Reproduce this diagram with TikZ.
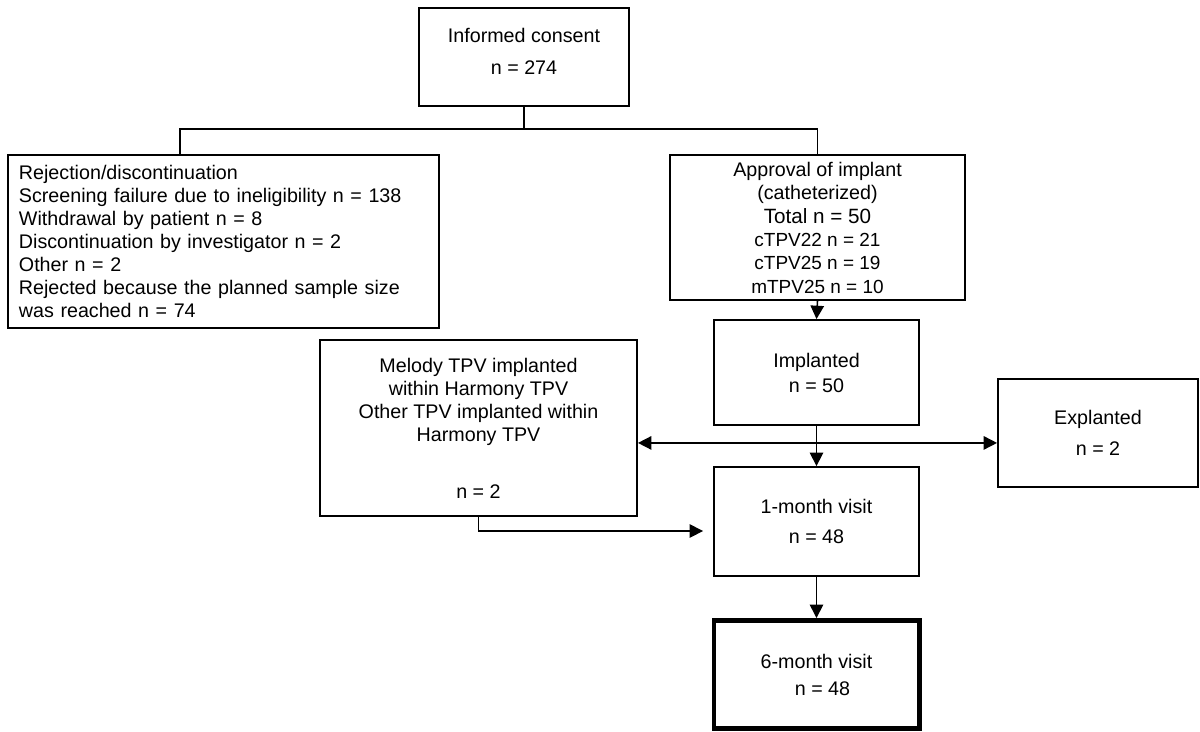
\documentclass[tikz,border=0pt]{standalone}
\usepackage{fontspec}
\setmainfont{Liberation Sans}
\usetikzlibrary{arrows.meta, positioning, calc}

\tikzset{
  box/.style={draw, line width=1.3pt, align=center, inner sep=0pt,
    font=\fontsize{14}{16.4}\selectfont},
  link/.style={line width=1.1pt},
  arrow/.style={link, -{Triangle[length=9.5pt, width=9.5pt]}},
}

\begin{document}
\begin{tikzpicture}[x=0.025cm, y=-0.025cm]

\useasboundingbox (0,0) rectangle (1200,731);

% --- consentimiento ---
\node[box, minimum width=5.25cm, minimum height=2.45cm] (consent) at (524,57)
    {Informed consent\\[7pt] n = 274\rule[-0.28cm]{0pt}{0pt}};

% --- rechazos ---
\node[box, align=left, text width=10.225cm, minimum width=10.775cm, minimum height=4.325cm]
    (reject) at (223.5,241.5)
    {Rejection/discontinuation\\
     Screening failure due to ineligibility n = 138\\
     Withdrawal by patient n = 8\\
     Discontinuation by investigator n = 2\\
     Other n = 2\\
     Rejected because the planned sample size\\
     was reached n = 74};

% --- aprobacion ---
\node[box, minimum width=7.375cm, minimum height=3.625cm] (approve) at (817.5,227.5)
    {Approval of implant\\[0.6pt]
     (catheterized)\\[0.6pt]
     {\fontsize{14.7}{17}\selectfont Total n = 50}\\
     {\fontsize{13.5}{16}\selectfont cTPV22 n = 21}\\
     {\fontsize{13.5}{16}\selectfont cTPV25 n = 19}\\
     {\fontsize{13.5}{16}\selectfont mTPV25 n = 10}};

% --- seguimiento ---
\node[box, minimum width=5.125cm, minimum height=2.625cm] (implant) at (816.5,372.5)
    {Implanted\\[1.4pt] n = 50};
\node[box, minimum width=7.925cm, minimum height=4.4cm] (melody) at (478.5,428)
    {Melody TPV implanted\\ within Harmony TPV\\ Other TPV implanted within\\ Harmony TPV\\[24pt] n = 2};
\node[box, minimum width=5cm, minimum height=2.7cm] (explant) at (1098,433)
    {Explanted\\[5.5pt] n = 2};
\node[box, minimum width=5.125cm, minimum height=2.725cm] (onemonth) at (816.5,521.5)
    {1-month visit\\[5pt] n = 48};
\node[box, line width=3.5pt, minimum width=5.125cm, minimum height=2.7cm] (sixmonth) at (816.5,674.5)
    {6-month visit\\[2.8pt] \hspace*{0.3cm}n = 48};

% --- conectores ---
\draw[link] (consent.south) -- ++(0,22) coordinate (split);
\draw[link] (split) -| (approve.north);
\draw[link] (split) -| ($(reject.north west)+(173,0)$);
\draw[arrow] (approve.south) -- (implant.north);
\draw[arrow] (implant.south) -- (onemonth.north);
\coordinate (branch) at ($(implant.south)+(0,17)$);
\draw[arrow] (branch) -- (melody.east |- branch);
\draw[arrow] (branch) -- (explant.west |- branch);
\draw[arrow, shorten >=0.25cm] (melody.south) |- ($(onemonth.west)+(0,9.5)$);
\draw[arrow] (onemonth.south) -- (sixmonth.north);

\end{tikzpicture}
\end{document}
